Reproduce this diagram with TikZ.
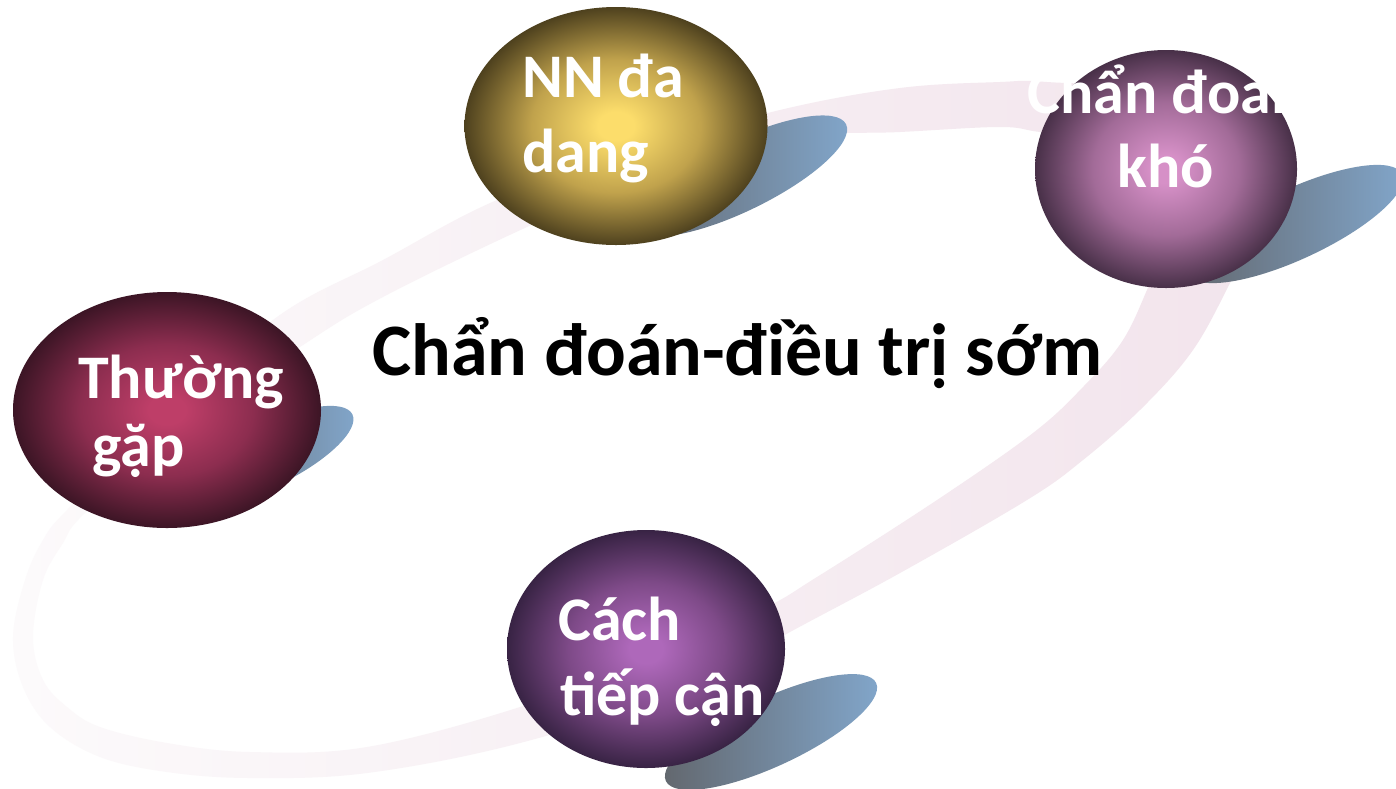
\documentclass[tikz,border=0pt]{standalone}
\usepackage{fontspec}
\setmainfont{Carlito}
\usetikzlibrary{shapes.geometric}
\definecolor{nnc}{RGB}{252,221,107}
\definecolor{nnm}{RGB}{192,162,76}
\definecolor{nne}{RGB}{78,65,30}
\definecolor{tgc}{RGB}{190,62,104}
\definecolor{tgm}{RGB}{140,45,79}
\definecolor{tge}{RGB}{60,21,37}
\definecolor{cdc}{RGB}{214,144,199}
\definecolor{cdm}{RGB}{162,107,152}
\definecolor{cde}{RGB}{72,48,72}
\definecolor{ctc}{RGB}{174,104,186}
\definecolor{ctm}{RGB}{126,74,136}
\definecolor{cte}{RGB}{56,35,68}
\definecolor{shdark}{RGB}{98,102,108}
\definecolor{shlight}{RGB}{130,167,204}
\definecolor{ringL}{RGB}{252,250,251}
\definecolor{ringR}{RGB}{242,228,236}
\pgfdeclareradialshading{nnball}{\pgfpointorigin}{color(0bp)=(nnc); color(3bp)=(nnc); color(14bp)=(nnm); color(25bp)=(nne); color(50bp)=(nne)}
\pgfdeclareradialshading{tgball}{\pgfpointorigin}{color(0bp)=(tgc); color(3bp)=(tgc); color(14bp)=(tgm); color(25bp)=(tge); color(50bp)=(tge)}
\pgfdeclareradialshading{cdball}{\pgfpointorigin}{color(0bp)=(cdc); color(3bp)=(cdc); color(14bp)=(cdm); color(25bp)=(cde); color(50bp)=(cde)}
\pgfdeclareradialshading{ctball}{\pgfpointorigin}{color(0bp)=(ctc); color(3bp)=(ctc); color(14bp)=(ctm); color(25bp)=(cte); color(50bp)=(cte)}
\tikzset{
  ball/.style={ellipse, inner sep=0pt, shade},
  shadowfill/.style={left color=shdark, right color=shlight},
  lbl/.style={text=white, font=\fontsize{62}{74}\selectfont\bfseries, inner sep=0pt},
  title/.style={text=black, font=\fontsize{74}{90}\selectfont\bfseries, inner sep=0pt, anchor=base west}
}
\begin{document}
\begin{tikzpicture}[x=1pt, y=-1pt]
\useasboundingbox (0,0) rectangle (1396,788);
\fill[white] (0,0) rectangle (1396,788);
% ring
\shade[even odd rule, left color=ringL, right color=ringR]
  plot[smooth cycle, tension=0.6] coordinates {
    (13,637) (23,687) (50,727) (100,757) (167,772) (250,778) (367,773) (520,743)
    (685,690) (790,632) (900,573) (1027,500) (1083,460) (1143,407) (1193,350)
    (1230,283) (1255,230) (1250,150) (1180,95) (1047,82) (1000,82) (900,88)
    (780,110) (640,150) (497,200) (383,260) (277,317) (160,420) (67,510) (43,540) (25,580)}
  plot[smooth cycle, tension=0.6] coordinates {
    (33,637) (43,680) (67,707) (100,727) (167,743) (250,752) (367,747) (520,707)
    (640,660) (760,610) (817,577) (937,500) (1033,433) (1083,387) (1123,340)
    (1150,283) (1168,240) (1165,180) (1110,140) (1040,132) (1000,127) (900,132)
    (780,138) (650,175) (527,227) (383,297) (303,345) (180,430) (85,513) (63,543) (43,580)};
% shadows
\coordinate (nnS) at (740,176);
\coordinate (tgS) at (267,456);
\coordinate (cdS) at (1295,224);
\coordinate (ctS) at (771,732);
\shade[shadowfill, rotate around={26:(nnS)}] (nnS) ellipse [x radius=118pt, y radius=35pt];
\shade[shadowfill, rotate around={26:(tgS)}] (tgS) ellipse [x radius=95pt, y radius=31pt];
\shade[shadowfill, rotate around={25:(cdS)}] (cdS) ellipse [x radius=118pt, y radius=35pt];
\shade[shadowfill, rotate around={25:(ctS)}] (ctS) ellipse [x radius=116pt, y radius=34pt];
% spheres
\node[ball, shading=nnball, minimum width=303pt, minimum height=238pt] (nn) at (616,126) {};
\node[ball, shading=tgball, minimum width=308pt, minimum height=236pt] (tg) at (167,410) {};
\node[ball, shading=cdball, minimum width=262pt, minimum height=238pt] (cd) at (1166,169) {};
\node[ball, shading=ctball, minimum width=278pt, minimum height=238pt] (ct) at (646,649) {};
% labels
\node[lbl, anchor=base west] (nn1) at (522,97) {NN đa};
\node[lbl, anchor=base west] (nn2) at (522,172) {dang};
\node[lbl, anchor=base west] (tg1) at (78,398) {Thường};
\node[lbl, anchor=base west] (tg2) at (92,466) {gặp};
\node[lbl, anchor=base] (cd1) at (1166,113) {Chẩn đoán};
\node[lbl, anchor=base] (cd2) at (1166,187) {khó};
\node[lbl, anchor=base west] (ct1) at (558,640) {Cách};
\node[lbl, anchor=base west] (ct2) at (560,715) {tiếp cận};
\node[title] (main) at (372,375) {Chẩn đoán-điều trị sớm};
\end{tikzpicture}
\end{document}
